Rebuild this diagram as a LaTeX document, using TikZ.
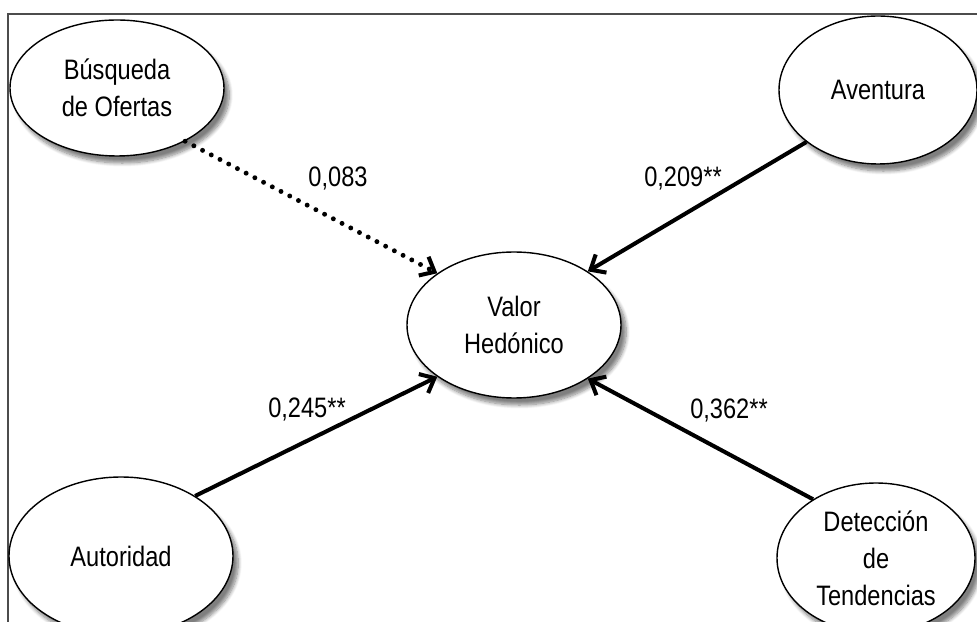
\documentclass[tikz,border=0pt]{standalone}
\usepackage{fontspec}
\setmainfont{Liberation Sans}[FakeStretch=0.84]
\usetikzlibrary{shapes.geometric, arrows.meta, shadows.blur}

\begin{document}
\begin{tikzpicture}[
      construct/.style={ellipse, draw, line width=0.8pt, fill=white, align=center, inner sep=0pt,
        font=\fontsize{16}{21}\selectfont,
        blur shadow={shadow xshift=3pt, shadow yshift=-4pt, shadow blur steps=8, shadow opacity=50}},
      effect/.style={line width=2.3pt, -{Straight Barb[length=7pt, width=12pt, line width=2.3pt]}},
      weak/.style={effect, line cap=round, dash pattern=on 0pt off 5.6pt, line width=2.8pt},
      coef/.style={font=\fontsize{16}{18}\selectfont}
    ]
      \clip (0,0) rectangle (19.54,12.44);
      \useasboundingbox (0,0) rectangle (19.54,12.44);
      % frame
      \draw[black!70, line width=0.6pt] (0.16,-1) rectangle (21,12.16);

      % constructs
      \node[construct, minimum width=4.28cm, minimum height=2.72cm] (busqueda) at (2.34,10.68) {Búsqueda\\de Ofertas};
      \node[construct, minimum width=3.96cm, minimum height=2.96cm] (aventura) at (17.56,10.64) {Aventura};
      \node[construct, minimum width=4.28cm, minimum height=2.92cm] (valor) at (10.28,5.94) {Valor\\Hedónico};
      \node[construct, minimum width=4.48cm, minimum height=3.16cm] (autoridad) at (2.42,1.32) {Autoridad};
      \node[construct, minimum width=3.96cm, minimum height=3.0cm, inner ysep=-4pt] (deteccion) at (17.52,1.28) {Detección\\de\\Tendencias};

      % paths
      \draw[weak] (busqueda.-38) -- (valor.146);
      \draw[effect] (aventura.216) -- (valor.36);
      \draw[effect] (autoridad.39) -- (valor.214);
      \draw[effect] (deteccion.137) -- (valor.-36);

      % coefficients
      \node[coef] (coef_busqueda) at (6.76,8.88) {0,083};
      \node[coef] (coef_aventura) at (13.66,8.88) {0,209**};
      \node[coef] (coef_autoridad) at (6.14,4.26) {0,245**};
      \node[coef] (coef_deteccion) at (14.58,4.24) {0,362**};
    \end{tikzpicture}
\end{document}
